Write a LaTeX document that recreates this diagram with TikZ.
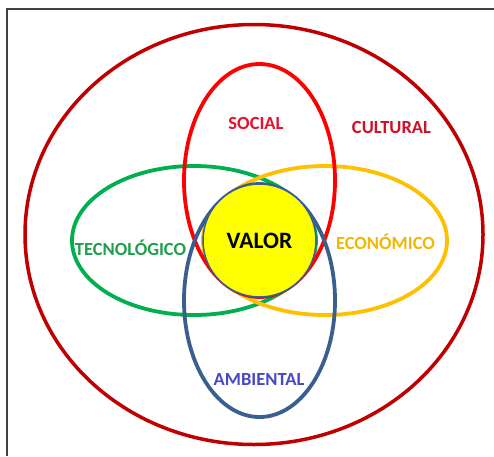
\documentclass[tikz,border=0pt]{standalone}
\usepackage{fontspec}
\setmainfont{Carlito}
\definecolor{outerred}{HTML}{C00000}
\definecolor{socred}{HTML}{FF0000}
\definecolor{tecgreen}{HTML}{00B050}
\definecolor{ecoyel}{HTML}{FFC000}
\definecolor{ambblue}{HTML}{3A5F8E}
\definecolor{valfill}{HTML}{FFFF00}
\definecolor{soctext}{HTML}{E3122E}
\definecolor{cultext}{HTML}{D0102A}
\definecolor{tectext}{HTML}{1EA04C}
\definecolor{ecotext}{HTML}{F2B800}
\definecolor{ambtext}{HTML}{4848C8}
\begin{document}
\begin{tikzpicture}[x=1pt,y=-1pt,
  ring/.style={line width=3.8pt},
  lbl/.style={font=\bfseries\fontsize{18.5}{21}\selectfont, inner sep=0pt}]
\useasboundingbox (0,0) rectangle (494,456);
\fill[white] (0,0) rectangle (494,456);
\draw[line width=1.2pt, color=black!75] (7,456) -- (7,9) -- (494,9);
% outer cultural ellipse
\draw[line width=3.5pt, outerred] (254,234.5) ellipse [x radius=229, y radius=210];
% technology / economy
\draw[ring, tecgreen] (194,240.5) ellipse [x radius=122, y radius=74.5];
\draw[ring, ecoyel] (325,240.5) ellipse [x radius=122, y radius=74.5];
% social / environmental
\draw[ring, socred] (259.5,180.5) ellipse [x radius=75.5, y radius=116.5];
\draw[ring, ambblue] (259.5,300.5) ellipse [x radius=75.5, y radius=116.5];
% value
\draw[line width=1.5pt, ambblue, fill=valfill] (259.5,240.5) circle [radius=56.5];
\node[lbl, font=\bfseries\fontsize{23.5}{26}\selectfont] (valor) at (259.5,240.5) {VALOR};
\node[lbl, soctext] (social) at (256,123) {SOCIAL};
\node[lbl, cultext] (cultural) at (391.5,127.5) {CULTURAL};
\node[lbl, tectext] (tec) at (130.5,247.5) {TECNOLÓGICO};
\node[lbl, ecotext] (eco) at (385.5,242) {ECONÓMICO};
\node[lbl, ambtext] (amb) at (259,379.5) {AMBIENTAL};
\end{tikzpicture}
\end{document}
